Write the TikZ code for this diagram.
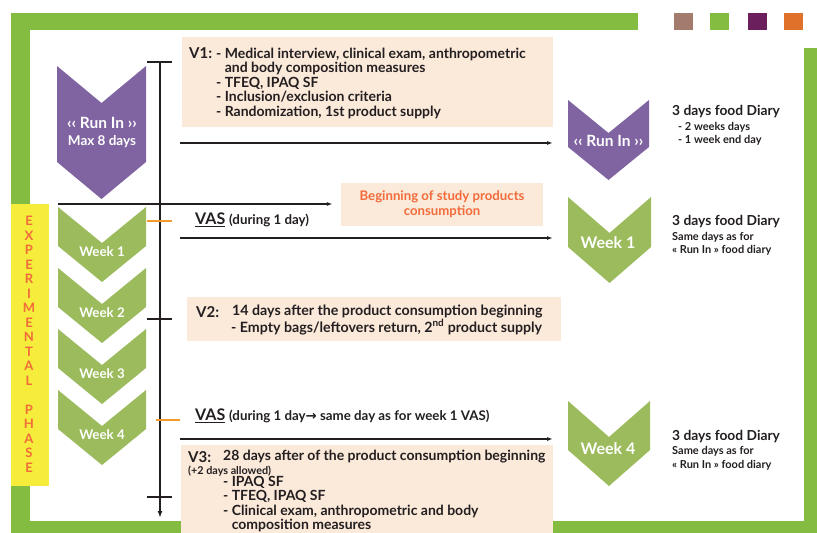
\documentclass[tikz,border=0pt]{standalone}
\usepackage{fontspec}
\setmainfont{Lato}
\newfontfamily\arrowfont{DejaVu Sans}
\usetikzlibrary{arrows.meta}
\definecolor{framegreen}{HTML}{84BB41}
\definecolor{chevpurple}{HTML}{8064A2}
\definecolor{chevgreen}{HTML}{9BBB5C}
\definecolor{boxbeige}{HTML}{FBE9DA}
\definecolor{phaseyellow}{HTML}{F5EC3B}
\definecolor{startorange}{HTML}{F26B3A}
\definecolor{tickorange}{HTML}{F39A2B}
\definecolor{sqbrown}{HTML}{A37C6E}
\definecolor{sqpurple}{HTML}{6B1F5D}
\definecolor{sqorange}{HTML}{E0712B}
\definecolor{txt}{HTML}{231F20}
\def\chevron[#1](#2,#3)(#4:#5:#6){\fill[#1] ({#2},{#3}) -- ({#2+#4/2},{#3+#6}) -- ({#2+#4},{#3}) -- ({#2+#4},{#3+#5}) -- ({#2+#4/2},{#3+#5+#6}) -- ({#2},{#3+#5}) -- cycle;}
\def\fs#1{\fontsize{#1}{#1}\selectfont\bfseries}

\begin{document}
\begin{tikzpicture}[x=1pt,y=-1pt,
	timeline/.style={line width=1.8pt,txt},
	tick/.style={line width=2.4pt},
	hit/.style={line width=1.3pt,txt,-{Latex[length=6pt,width=4pt]}},
	lbl/.style={inner sep=0,anchor=west,text=txt},
	chevlbl/.style={inner sep=0,text=white}]
			\useasboundingbox (0,0) rectangle (817,533);
			%%%%% START %%%%%
			% frame
			\fill[framegreen] (11,13) rectangle (638,30);
			\fill[framegreen] (11,13) rectangle (30,533);
			\fill[framegreen] (11,521) rectangle (817,533);
			\fill[framegreen] (804,48) rectangle (817,533);
			\foreach \x/\c in {674/sqbrown,710/framegreen,748/sqpurple,784/sqorange}
				\fill[\c] (\x,13) rectangle ++(19,17);
			
			% phase label
			\fill[phaseyellow] (11,204) rectangle (49,486);
			\foreach \l [count=\i] in {E,X,P,E,R,I,M,E,N,T,A,L}
				\node[inner sep=0,text=startorange,font=\fs{13}] (ex\i) at (29,{221+(\i-1)*14.5}) {\l};
			\foreach \l [count=\i] in {P,H,A,S,E}
				\node[inner sep=0,text=startorange,font=\fs{13}] (ph\i) at (29,{221+(\i+12)*14.5}) {\l};
			
			% boxes
			\fill[boxbeige] (182,37) rectangle (553,127);
			\fill[boxbeige] (187,297) rectangle (561,341);
			\fill[boxbeige] (181,445) rectangle (553,533);
			\node[fill=boxbeige,minimum width=202,minimum height=43,inner sep=0,text=startorange,align=center,font=\fontsize{13.2}{15}\selectfont\bfseries] (start) at (442,204) {Beginning of study products\\consumption};
			
			% chevrons left
			\chevron[chevpurple](57,66)(89:96:37)
			\node[chevlbl,font=\fs{15.5}] (lrun) at (102,123) {‹‹ Run In ››};
			\node[chevlbl,font=\fs{13.5}] (lmax) at (102,142) {Max 8 days};
			\foreach \i in {1,...,4}{
				\chevron[chevgreen](58,207+(\i-1)*61)(88:39:36)
				\node[chevlbl,font=\fs{13.3}] (lw\i) at (102,{252+(\i-1)*61}) {Week \i};
			}
			
			% chevrons right
			\chevron[chevpurple](568,100)(81:47:33)
			\node[chevlbl,font=\fs{15.5}] (rrun) at (608.5,141) {‹‹ Run In ››};
			\chevron[chevgreen](568,197)(83:50:36)
			\node[chevlbl,font=\fs{16}] (rw1) at (608,243) {Week 1};
			\chevron[chevgreen](568,401)(82:49:36)
			\node[chevlbl,font=\fs{16}] (rw4) at (608,449) {Week 4};
			
			% timeline
			\coordinate (tltop) at (160,62);
			\coordinate (tlend) at (160,518);
			\draw[timeline,-{Latex[length=7pt,width=5pt]}] (tltop) -- (tlend);
			\draw[tick,txt] (147,62) -- (172,62);
			\draw[tick,txt] (147,319) -- (172,319);
			\draw[tick,txt] (147,497) -- (172,497);
			\draw[tick,tickorange] (147,221) -- (172,221);
			\draw[tick,tickorange] (156,420) -- (180,420);
			
			% arrows
			\coordinate (a0) at (58,204);
			\coordinate (a1) at (180,143);
			\coordinate (b1) at (553,143);
			\coordinate (a2) at (180,238);
			\coordinate (b2) at (553,238);
			\coordinate (a3) at (180,439);
			\coordinate (b3) at (553,439);
			\draw[hit,shorten >=8pt] (a0) -- (a0 -| start.west);
			\draw[hit] (a1) -- (b1);
			\draw[hit] (a2) -- (b2);
			\draw[hit] (a3) -- (b3);
			
			% V1
			\node[lbl,font=\fs{15}] (v1) at (189,53) {V1:};
			\node[lbl,anchor=north west,align=left,font=\fontsize{14}{14.5}\selectfont\bfseries] (v1txt) at (216,47.5) {- Medical interview, clinical exam, anthropometric\\\phantom{- }and body composition measures\\- TFEQ, IPAQ SF\\- Inclusion/exclusion criteria\\- Randomization, 1st product supply};
			
			% VAS
			\node[lbl] (vas1) at (195,220) {\fs{16}\underline{VAS} \fs{13.3}(during 1 day)};
			\node[lbl] (vas2) at (195,416) {\fs{16}\underline{VAS} \fs{13.3}(during 1 day{\arrowfont →} same day as for week 1 VAS)};
			
			% V2
			\node[lbl,font=\fs{15}] (v2) at (196,312) {V2:};
			\node[lbl,font=\fs{14.2}] (v2a) at (232,311.5) {14 days after the product consumption beginning};
			\node[lbl,font=\fs{14.2}] (v2b) at (231,327) {- Empty bags/leftovers return, 2\textsuperscript{nd} product supply};
			
			% V3
			\node[lbl,font=\fs{15}] (v3) at (188,457) {V3:};
			\node[lbl,font=\fs{14}] (v3a) at (223,457) {28 days after of the product consumption beginning};
			\node[lbl,font=\fs{10.8}] (v3b) at (188,471) {(+2 days allowed)};
			\node[lbl,anchor=north west,align=left,font=\fontsize{14}{14.3}\selectfont\bfseries] (v3c) at (223,476) {- IPAQ SF\\- TFEQ, IPAQ SF\\- Clinical exam, anthropometric and body\\\phantom{- }composition measures};
			
			% diaries
			\node[lbl,font=\fs{13.8}] (d1) at (672,112) {3 days food Diary};
			\node[lbl,anchor=north west,align=left,font=\fontsize{11}{13}\selectfont\bfseries] (d1a) at (678,122.5) {- 2 weeks days\\- 1 week end day};
			\node[lbl,font=\fs{13.8}] (d2) at (672,222) {3 days food Diary};
			\node[lbl,anchor=north west,align=left,font=\fontsize{11}{13}\selectfont\bfseries] (d2a) at (672,232.5) {Same days as for\\« Run In » food diary};
			\node[lbl,font=\fs{13.8}] (d3) at (672,437) {3 days food Diary};
			\node[lbl,anchor=north west,align=left,font=\fontsize{11}{13.5}\selectfont\bfseries] (d3a) at (672,446.5) {Same days as for\\« Run In » food diary};
			%%%%% END %%%%%
		\end{tikzpicture}
\end{document}
